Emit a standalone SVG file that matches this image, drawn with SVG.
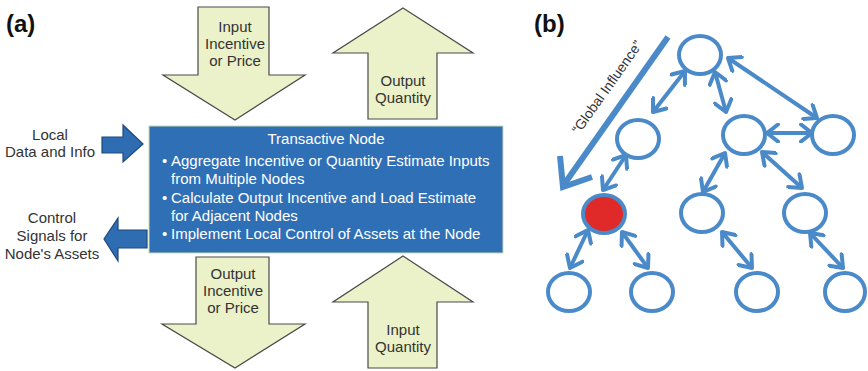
<svg xmlns="http://www.w3.org/2000/svg" width="868" height="371" viewBox="0 0 868 371">
<defs>
<style>
text{font-family:"Liberation Sans",Arial,sans-serif;font-size:15px;fill:#333}
.lbl{font-size:24px;font-weight:bold;fill:#111}
.big{fill:#ebf1c8;stroke:#4a4a4a;stroke-width:1.2}
.side{fill:#2f6db2;stroke:#1d4a7c;stroke-width:1.2}
.box text{fill:#fff}
.nd{fill:#fff;stroke:#4a8ac9;stroke-width:4}
.cn line{stroke:#4a8ac9;stroke-width:4;marker-start:url(#ah);marker-end:url(#ah)}
</style>
<marker id="ah" markerUnits="userSpaceOnUse" markerWidth="20" markerHeight="20" viewBox="0 0 20 20" refX="16" refY="10" orient="auto-start-reverse">
<path d="M5,1.5 L16,10 L5,18.5" fill="none" stroke="#4a8ac9" stroke-width="4" stroke-linejoin="round" stroke-linecap="round"/>
</marker>
</defs>
<rect width="868" height="371" fill="#fff"/>
<text class="lbl" x="6" y="32">(a)</text>
<text class="lbl" x="534" y="32">(b)</text>

<g id="input-incentive">
<polygon class="big" points="198,7 269,7 269,75 305,75 235,120 163,75 198,75"/>
<text x="235" y="32" text-anchor="middle">Input</text>
<text x="235" y="49" text-anchor="middle">Incentive</text>
<text x="235" y="66" text-anchor="middle">or Price</text>
</g>
<g id="output-quantity">
<polygon class="big" points="403,8 473,53 437,53 437,119 368,119 368,53 333,53"/>
<text x="403" y="86" text-anchor="middle">Output</text>
<text x="403" y="103" text-anchor="middle">Quantity</text>
</g>
<g id="local-data">
<polygon class="side" points="102,137 123,137 123,125 143,144 123,162 123,153 102,153"/>
<text x="50" y="140" text-anchor="middle">Local</text>
<text x="50" y="157" text-anchor="middle">Data and Info</text>
</g>
<g id="control-signals">
<polygon class="side" points="147,230 118,230 118,218 104,239 118,261 118,248 147,248"/>
<text x="52" y="223" text-anchor="middle">Control</text>
<text x="52" y="241" text-anchor="middle">Signals for</text>
<text x="52" y="259" text-anchor="middle">Node's Assets</text>
</g>
<g id="transactive-node" class="box">
<rect x="149" y="126" width="354" height="127" fill="#2f6fb6" stroke="#cfdcab" stroke-width="1"/>
<text x="326" y="144" text-anchor="middle">Transactive Node</text>
<text x="162" y="166">•</text><text x="171" y="166">Aggregate Incentive or Quantity Estimate Inputs</text>
<text x="171" y="184">from Multiple Nodes</text>
<text x="162" y="203">•</text><text x="171" y="203">Calculate Output Incentive and Load Estimate</text>
<text x="171" y="221">for Adjacent Nodes</text>
<text x="162" y="239">•</text><text x="171" y="239">Implement Local Control of Assets at the Node</text>
</g>
<g id="output-incentive">
<polygon class="big" points="196,257 269,257 269,324 305,324 235,368 162,324 196,324"/>
<text x="233" y="279" text-anchor="middle">Output</text>
<text x="233" y="296" text-anchor="middle">Incentive</text>
<text x="233" y="313" text-anchor="middle">or Price</text>
</g>
<g id="input-quantity">
<polygon class="big" points="403,256 473,302 437,302 437,368 368,368 368,302 333,302"/>
<text x="403" y="335" text-anchor="middle">Input</text>
<text x="403" y="352" text-anchor="middle">Quantity</text>
</g>

<g id="global-influence">
<line x1="668" y1="37" x2="565" y2="183" stroke="#4a8ac9" stroke-width="6"/>
<path d="M560,156 L563,187 L592,177" fill="none" stroke="#4a8ac9" stroke-width="6" stroke-linejoin="miter"/>
<text x="611" y="90" text-anchor="middle" transform="rotate(-54.7 611 90)" style="font-size:14px">“Global Influence”</text>
</g>

<g id="connectors" class="cn">
<line x1="685" y1="71" x2="653" y2="112"/>
<line x1="715" y1="72" x2="726" y2="112"/>
<line x1="728" y1="58" x2="817" y2="118"/>
<line x1="767" y1="133" x2="812" y2="133"/>
<line x1="626" y1="155" x2="603" y2="190"/>
<line x1="588" y1="230" x2="570" y2="268"/>
<line x1="622" y1="232" x2="648" y2="268"/>
<line x1="725" y1="153" x2="703" y2="192"/>
<line x1="762" y1="152" x2="802" y2="188"/>
<line x1="722" y1="232" x2="752" y2="268"/>
<line x1="810" y1="233" x2="843" y2="268"/>
</g>

<g id="n-top"><ellipse class="nd" cx="700" cy="55" rx="21" ry="19"/></g>
<g id="n-left"><ellipse class="nd" cx="638" cy="139" rx="21" ry="19"/></g>
<g id="n-mid"><ellipse class="nd" cx="744" cy="135" rx="21" ry="19"/></g>
<g id="n-right"><ellipse class="nd" cx="833" cy="135" rx="21" ry="19"/></g>
<g id="n-red"><ellipse class="nd" cx="604" cy="214" rx="21" ry="19" style="fill:#e02a2a"/></g>
<g id="n-ml3"><ellipse class="nd" cx="702" cy="213" rx="21" ry="19"/></g>
<g id="n-r3"><ellipse class="nd" cx="805" cy="213" rx="21" ry="19"/></g>
<g id="n-b1"><ellipse class="nd" cx="569" cy="292" rx="21" ry="19"/></g>
<g id="n-b2"><ellipse class="nd" cx="652" cy="292" rx="21" ry="19"/></g>
<g id="n-b3"><ellipse class="nd" cx="757" cy="292" rx="21" ry="19"/></g>
<g id="n-b4"><ellipse class="nd" cx="845" cy="292" rx="20" ry="19"/></g>
</svg>
